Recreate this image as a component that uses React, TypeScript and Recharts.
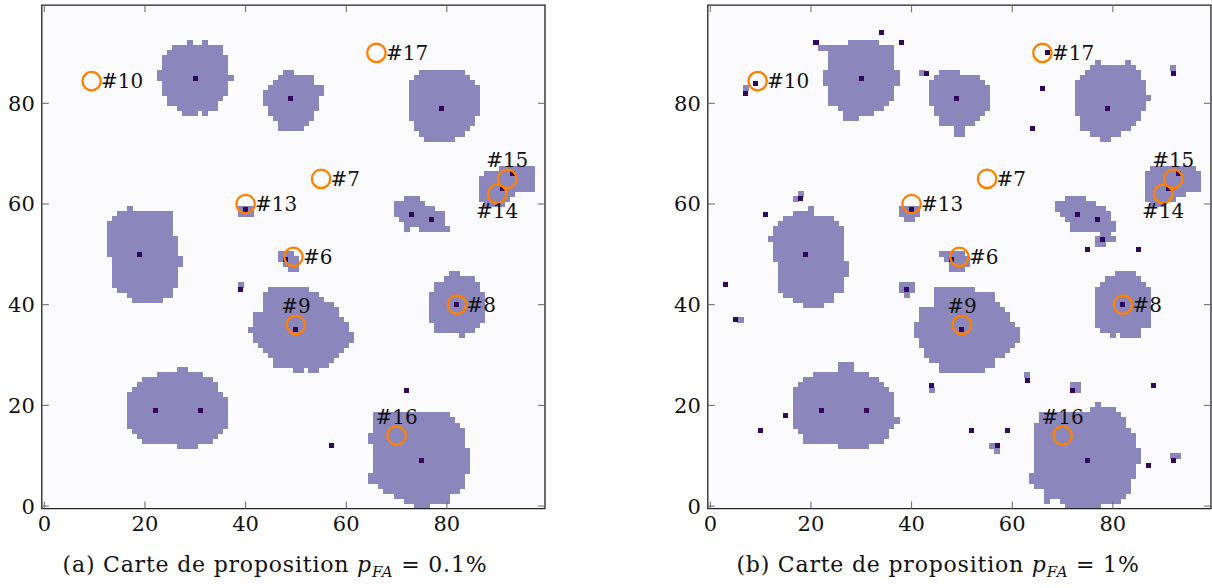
import React from 'react'
import { ReferenceArea, ReferenceLine, Scatter, ScatterChart, XAxis, YAxis } from 'recharts'

// proposal map: rows of detected pixels [row, firstCol, lastCol]
const tickValues = [0, 20, 40, 60, 80]

const runsA: [number, number, number][] = [
    // top-left blob
    [92, 29, 29], [92, 32, 32], [91, 26, 35], [90, 25, 35], [89, 24, 36], [88, 24, 36], [87, 24, 36],
    [86, 23, 36], [85, 23, 37], [84, 24, 36], [83, 24, 36], [82, 24, 36], [81, 25, 35], [80, 25, 34],
    [79, 27, 34], [78, 28, 30], [78, 32, 32],
    // blob around (49, 81)
    [86, 48, 49], [85, 47, 53], [84, 46, 53], [83, 45, 55], [82, 44, 55], [81, 44, 54], [80, 44, 54],
    [79, 45, 54], [78, 45, 53], [77, 46, 53], [76, 47, 52], [75, 47, 51],
    // blob around (79, 79)
    [86, 75, 83], [85, 74, 84], [84, 73, 85], [83, 73, 86], [82, 73, 86], [81, 73, 86], [80, 73, 86],
    [79, 73, 86], [78, 73, 86], [77, 73, 85], [76, 74, 85], [75, 74, 84], [74, 75, 83], [73, 76, 81],
    // left blob
    [59, 17, 17], [58, 15, 25], [57, 14, 25], [56, 13, 25], [55, 13, 25], [54, 13, 25], [53, 13, 26],
    [52, 13, 26], [51, 13, 26], [50, 13, 26], [49, 14, 27], [48, 14, 27], [47, 14, 26], [46, 14, 26],
    [45, 14, 26], [44, 14, 26], [43, 15, 25], [42, 17, 25], [41, 18, 23],
    // #13, #6 and the lone pixel
    [59, 39, 41], [58, 39, 41],
    [50, 47, 49], [49, 47, 50], [48, 48, 50], [47, 49, 50],
    [44, 39, 39],
    // blob around (73, 58)
    [61, 72, 74], [60, 70, 75], [59, 70, 77], [58, 70, 79], [57, 71, 79], [56, 72, 79], [55, 72, 72], [55, 75, 80],
    // #14 / #15
    [67, 91, 97], [66, 88, 97], [65, 87, 97], [64, 87, 97], [63, 87, 97], [62, 87, 93], [61, 87, 92], [60, 88, 91],
    // #8
    [46, 81, 82], [45, 80, 85], [44, 78, 86], [43, 78, 86], [42, 77, 87], [41, 77, 87], [40, 77, 87],
    [39, 77, 87], [38, 77, 87], [37, 77, 87], [36, 78, 86], [35, 78, 85], [34, 83, 83],
    // #9
    [43, 45, 52], [42, 44, 54], [41, 44, 55], [40, 44, 57], [39, 44, 58], [38, 42, 58], [37, 42, 59],
    [36, 42, 60], [35, 41, 60], [34, 42, 61], [33, 42, 61], [32, 43, 60], [31, 44, 59], [30, 45, 58],
    [29, 46, 57], [28, 46, 56], [27, 50, 51], [27, 53, 54],
    // bottom-left blob
    [27, 27, 28], [26, 23, 31], [25, 20, 33], [24, 19, 34], [23, 18, 34], [22, 17, 35], [21, 17, 36],
    [20, 17, 36], [19, 17, 36], [18, 17, 36], [17, 17, 36], [16, 17, 36], [15, 18, 35], [14, 19, 34],
    [13, 20, 33], [12, 27, 30],
    // #16
    [18, 66, 80], [17, 66, 81], [16, 66, 82], [15, 66, 83], [14, 65, 83], [13, 65, 83], [12, 66, 83],
    [11, 66, 84], [10, 66, 84], [9, 66, 84], [8, 66, 84], [7, 66, 84], [6, 65, 83], [5, 65, 83],
    [4, 67, 83], [3, 68, 82], [2, 70, 80], [1, 72, 80], [0, 74, 76],
]

const seedsA: [number, number][] = [
    [30, 85], [49, 81], [79, 79], [19, 50], [40, 59], [48, 49], [39, 43], [73, 58], [77, 57],
    [93, 66], [91, 63], [82, 40], [50, 35], [22, 19], [31, 19], [72, 23], [57, 12], [75, 9],
]

const runsB: [number, number, number][] = [
    // top-left blob
    [92, 28, 33], [91, 22, 36], [90, 24, 36], [89, 24, 36], [88, 24, 36], [87, 24, 36], [86, 23, 37],
    [85, 23, 37], [84, 23, 37], [83, 24, 36], [82, 24, 36], [81, 24, 36], [80, 24, 35], [79, 26, 34],
    [78, 27, 32], [77, 27, 29],
    // blob around (49, 81)
    [86, 46, 49], [85, 45, 53], [84, 44, 54], [83, 44, 55], [82, 44, 55], [81, 44, 55], [80, 44, 55],
    [79, 45, 55], [78, 45, 54], [77, 46, 53], [76, 46, 52], [75, 49, 50], [74, 49, 50],
    // blob around (79, 79)
    [88, 77, 77], [88, 83, 83], [87, 76, 84], [86, 75, 85], [85, 74, 85], [84, 73, 86], [83, 73, 86],
    [82, 73, 86], [81, 73, 87], [80, 73, 86], [79, 73, 86], [78, 73, 85], [77, 74, 85], [76, 74, 84],
    [75, 74, 83], [74, 76, 81], [73, 78, 79],
    // left blob
    [59, 20, 20], [58, 17, 20], [57, 15, 24], [56, 14, 25], [55, 13, 26], [54, 13, 26], [53, 12, 26],
    [52, 13, 26], [51, 13, 26], [50, 13, 26], [49, 13, 26], [48, 14, 27], [47, 14, 27], [46, 14, 27],
    [45, 14, 26], [44, 14, 26], [43, 14, 26], [42, 15, 24], [41, 17, 24], [40, 19, 22],
    // small detections
    [83, 7, 7], [86, 42, 42], [62, 18, 18], [61, 17, 17], [37, 6, 6], [23, 44, 44], [26, 63, 63],
    [24, 72, 73], [23, 73, 73], [12, 56, 56], [11, 57, 57], [10, 92, 93], [87, 92, 92],
    [59, 38, 41], [58, 38, 41], [57, 39, 40],
    [44, 38, 40], [43, 38, 40], [42, 39, 39],
    [50, 46, 50], [49, 47, 51], [48, 48, 51], [47, 48, 50],
    // blob around (73, 58)
    [61, 71, 74], [60, 69, 76], [59, 69, 78], [58, 70, 79], [57, 71, 79], [56, 72, 80], [55, 72, 80],
    [54, 78, 79], [53, 77, 80], [52, 77, 78],
    // #14 / #15
    [67, 88, 96], [66, 87, 97], [65, 87, 97], [64, 87, 97], [63, 87, 97], [62, 87, 94], [61, 87, 92], [60, 88, 90],
    // #8
    [46, 81, 84], [45, 79, 85], [44, 78, 86], [43, 77, 87], [42, 77, 87], [41, 77, 87], [40, 77, 87],
    [39, 77, 87], [38, 77, 87], [37, 77, 87], [36, 77, 87], [35, 78, 85], [34, 80, 80], [34, 82, 85],
    // #9
    [43, 45, 52], [42, 45, 56], [41, 45, 56], [40, 45, 57], [39, 42, 58], [38, 42, 59], [37, 42, 59],
    [36, 41, 60], [35, 41, 61], [34, 41, 61], [33, 42, 61], [32, 42, 60], [31, 43, 59], [30, 43, 58],
    [29, 44, 56], [28, 46, 56], [27, 46, 54],
    // bottom-left blob
    [28, 26, 28], [27, 26, 28], [26, 21, 31], [25, 19, 33], [24, 18, 34], [23, 17, 35], [22, 17, 36],
    [21, 17, 36], [20, 17, 36], [19, 17, 36], [18, 17, 36], [17, 17, 37], [16, 17, 36], [15, 18, 35],
    [14, 19, 35], [13, 19, 34], [12, 26, 31],
    // #16
    [20, 77, 77], [19, 76, 80], [18, 66, 81], [17, 66, 82], [16, 65, 82], [15, 65, 83], [14, 65, 84],
    [13, 65, 84], [12, 65, 84], [11, 65, 85], [10, 65, 85], [9, 65, 85], [8, 65, 84], [7, 65, 84],
    [6, 64, 84], [5, 64, 83], [4, 65, 83], [3, 67, 83], [2, 67, 82], [1, 67, 67], [1, 70, 81], [0, 71, 77],
]

const seedsB: [number, number][] = [
    [30, 85], [49, 81], [79, 79], [19, 50], [40, 59], [48, 49], [39, 43], [73, 58], [77, 57],
    [93, 66], [91, 63], [82, 40], [50, 35], [22, 19], [31, 19], [75, 9],
    [21, 92], [38, 92], [34, 94], [7, 82], [9, 84], [43, 86], [18, 61], [11, 58], [3, 44], [5, 37],
    [15, 18], [10, 15], [67, 90], [66, 83], [64, 75], [92, 86], [78, 53], [75, 51], [85, 51],
    [44, 24], [63, 25], [72, 23], [88, 24], [52, 15], [59, 15], [57, 12], [87, 8], [92, 9],
]

const proposals = [
    { id: '#6', x: 49.5, y: 49.5 },
    { id: '#7', x: 55, y: 65 },
    { id: '#8', x: 82, y: 40 },
    { id: '#9', x: 50, y: 36 },
    { id: '#10', x: 9.4, y: 84.4 },
    { id: '#13', x: 40, y: 60 },
    { id: '#14', x: 90, y: 62 },
    { id: '#15', x: 92, y: 65 },
    { id: '#16', x: 70, y: 14 },
    { id: '#17', x: 66, y: 90 },
]

const labelSide: Record<string, string> = { '#9': 'above', '#15': 'above', '#16': 'above', '#14': 'below' }

const BG = '#fbfafd'
const BLOB = '#8b87bc'
const SEED = '#33065e'
const ORANGE = '#ff8000'
const FONT = "'DejaVu Serif', serif"
const LO = -0.5
const HI = 99.5
const TICK = 1.4

const renderProposal = (props: any) => {
    const { cx, cy, payload } = props
    const side = labelSide[payload.id]
    let tx = cx + 9.5
    let ty = cy + 7
    let anchor = 'start'
    if (side === 'above') { tx = cx; ty = cy - 12; anchor = 'middle' }
    if (side === 'below') { tx = cx; ty = cy + 24; anchor = 'middle' }
    return (
        <g>
            <circle cx={cx} cy={cy} r={9.2} fill="none" stroke={ORANGE} strokeWidth={2.3} />
            <text x={tx} y={ty} textAnchor={anchor} fontFamily={FONT} fontSize={20} fill="#111">{payload.id}</text>
        </g>
    )
}

const Panel = ({ runs, seeds, width, rightMargin }: { runs: [number, number, number][], seeds: [number, number][], width: number, rightMargin: number }) => (
    <ScatterChart width={width} height={545} margin={{ top: 5.1, right: rightMargin, bottom: 6.4, left: 11.8 }}>
        <XAxis type="number" dataKey="x" domain={[LO, HI]} ticks={tickValues} interval={0} allowDataOverflow
            axisLine={false} tickLine={false} tickSize={0} tickMargin={7} height={30}
            tick={{ fontFamily: FONT, fontSize: 21, fill: '#111' }} />
        <YAxis type="number" dataKey="y" domain={[LO, HI]} ticks={tickValues} interval={0} allowDataOverflow
            axisLine={false} tickLine={false} tickSize={0} tickMargin={7} width={30}
            tick={{ fontFamily: FONT, fontSize: 21, fill: '#111' }} />
        <ReferenceArea x1={LO} x2={HI} y1={LO} y2={HI} fill={BG} fillOpacity={1} stroke="none" />
        {runs.map(([row, c0, c1], i) => (
            <ReferenceArea key={'r' + i} x1={c0 - 0.5} x2={c1 + 0.5} y1={row - 0.5} y2={row + 0.5}
                fill={BLOB} fillOpacity={1} stroke={BLOB} strokeWidth={1} shapeRendering="crispEdges" />
        ))}
        {seeds.map(([c, row], i) => (
            <ReferenceArea key={'s' + i} x1={c - 0.5} x2={c + 0.5} y1={row - 0.5} y2={row + 0.5}
                fill={SEED} fillOpacity={1} stroke="none" shapeRendering="crispEdges" />
        ))}
        {tickValues.map(t => (
            <React.Fragment key={'t' + t}>
                <ReferenceLine segment={[{ x: LO, y: t }, { x: LO + TICK, y: t }]} stroke="#666" strokeWidth={1} />
                <ReferenceLine segment={[{ x: HI - TICK, y: t }, { x: HI, y: t }]} stroke="#666" strokeWidth={1} />
                <ReferenceLine segment={[{ x: t, y: LO }, { x: t, y: LO + TICK }]} stroke="#666" strokeWidth={1} />
                <ReferenceLine segment={[{ x: t, y: HI - TICK }, { x: t, y: HI }]} stroke="#666" strokeWidth={1} />
            </React.Fragment>
        ))}
        <ReferenceArea x1={LO} x2={HI} y1={LO} y2={HI} fill="none" fillOpacity={0} stroke="#222" strokeWidth={1.3} />
        <Scatter data={proposals} shape={renderProposal} isAnimationActive={false} />
    </ScatterChart>
)

const captionStyle: React.CSSProperties = {
    position: 'absolute', top: 553, fontFamily: FONT, fontSize: 22, lineHeight: '24px',
    textAlign: 'center', color: '#111', whiteSpace: 'nowrap', letterSpacing: 0.8,
}

const Pfa = () => (
    <>
        <i>p</i><i style={{ fontSize: 15, position: 'relative', top: 5 }}>FA</i>
    </>
)

export default function App() {
    return (
        <div style={{ position: 'absolute', left: 0, top: 0, width: 1212, height: 588, overflow: 'hidden', background: '#fff' }}>
            <div style={{ position: 'absolute', left: 0, top: 0 }}>
                <Panel runs={runsA} seeds={seedsA} width={560} rightMargin={15} />
            </div>
            <div style={{ position: 'absolute', left: 666, top: 0 }}>
                <Panel runs={runsB} seeds={seedsB} width={546} rightMargin={1} />
            </div>
            <div style={{ ...captionStyle, left: 0, width: 550 }}>
                (a) Carte de proposition <Pfa /> = 0.1%
            </div>
            <div style={{ ...captionStyle, left: 663, width: 550 }}>
                (b) Carte de proposition <Pfa /> = 1%
            </div>
        </div>
    )
}
